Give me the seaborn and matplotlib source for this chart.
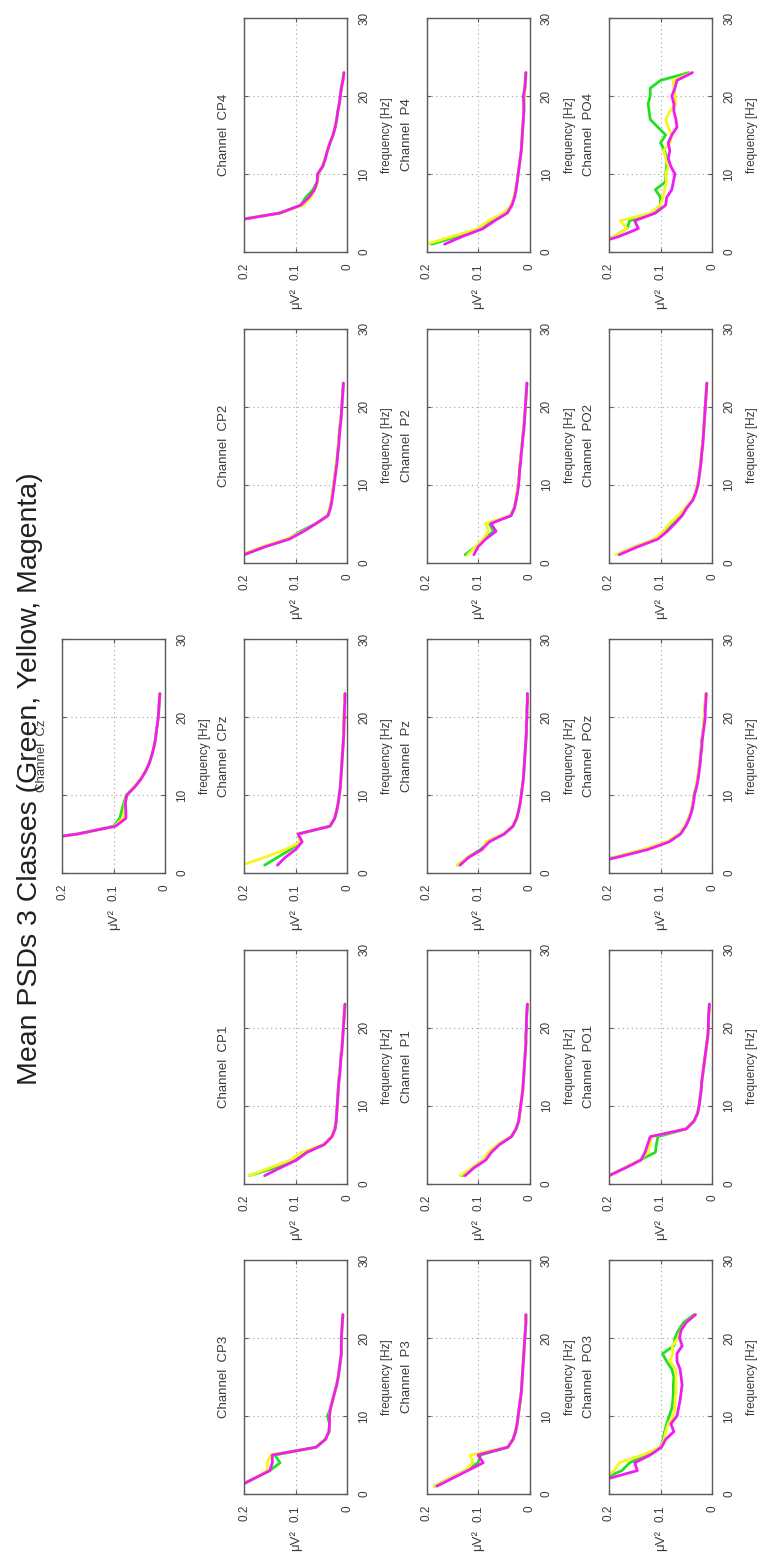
import numpy as np
import pandas as pd
import matplotlib
matplotlib.use("Agg")
import matplotlib.pyplot as plt
import seaborn as sns

# ---------------- data ----------------
freqs = list(range(1, 24))  # Hz
classes = ["Green", "Yellow", "Magenta"]

cz_green   = [0.60,0.50,0.40,0.28,0.17,0.100,0.088,0.084,0.080,0.075,0.060,0.048,0.038,0.031,0.026,0.022,0.019,0.017,0.015,0.013,0.012,0.011,0.010]
cz_yellow  = [0.60,0.50,0.40,0.28,0.17,0.098,0.082,0.078,0.078,0.074,0.060,0.048,0.038,0.031,0.026,0.022,0.019,0.017,0.015,0.013,0.012,0.011,0.010]
cz_magenta = [0.60,0.50,0.40,0.28,0.17,0.096,0.076,0.076,0.077,0.074,0.059,0.047,0.038,0.031,0.026,0.022,0.019,0.017,0.015,0.013,0.012,0.011,0.010]

cp4_green   = [0.60,0.45,0.33,0.22,0.13,0.090,0.080,0.066,0.058,0.056,0.047,0.042,0.038,0.033,0.027,0.023,0.020,0.018,0.015,0.013,0.011,0.008,0.006]
cp4_yellow  = [0.60,0.45,0.33,0.22,0.13,0.085,0.070,0.062,0.057,0.055,0.048,0.043,0.038,0.033,0.028,0.024,0.020,0.018,0.015,0.013,0.011,0.008,0.006]
cp4_magenta = [0.60,0.45,0.33,0.22,0.13,0.090,0.074,0.063,0.058,0.057,0.047,0.042,0.038,0.033,0.027,0.023,0.020,0.018,0.015,0.013,0.011,0.008,0.006]

cp2_green   = [0.200,0.160,0.115,0.090,0.060,0.037,0.033,0.030,0.028,0.026,0.024,0.022,0.020,0.018,0.017,0.016,0.014,0.013,0.011,0.010,0.009,0.008,0.007]
cp2_yellow  = [0.205,0.165,0.118,0.085,0.058,0.038,0.033,0.030,0.028,0.026,0.024,0.022,0.020,0.018,0.017,0.016,0.014,0.013,0.011,0.010,0.009,0.008,0.007]
cp2_magenta = [0.200,0.160,0.112,0.084,0.060,0.037,0.032,0.029,0.027,0.025,0.023,0.021,0.019,0.018,0.016,0.015,0.014,0.012,0.011,0.010,0.009,0.008,0.007]

cpz_green   = [0.160,0.135,0.110,0.090,0.095,0.033,0.024,0.020,0.017,0.015,0.013,0.012,0.011,0.010,0.009,0.008,0.007,0.007,0.006,0.006,0.005,0.005,0.004]
cpz_yellow  = [0.205,0.160,0.120,0.090,0.095,0.034,0.025,0.020,0.017,0.015,0.013,0.012,0.011,0.010,0.009,0.008,0.007,0.007,0.006,0.006,0.005,0.005,0.004]
cpz_magenta = [0.135,0.120,0.100,0.087,0.095,0.033,0.024,0.020,0.017,0.015,0.013,0.012,0.011,0.010,0.009,0.008,0.007,0.006,0.006,0.005,0.005,0.004,0.004]

cp1_green   = [0.190,0.140,0.100,0.078,0.045,0.030,0.024,0.021,0.020,0.019,0.018,0.017,0.016,0.015,0.013,0.012,0.011,0.009,0.008,0.007,0.006,0.005,0.004]
cp1_yellow  = [0.190,0.150,0.110,0.088,0.046,0.030,0.024,0.021,0.020,0.019,0.018,0.017,0.016,0.015,0.013,0.012,0.011,0.009,0.008,0.007,0.006,0.005,0.004]
cp1_magenta = [0.160,0.130,0.098,0.078,0.044,0.029,0.023,0.021,0.020,0.019,0.018,0.017,0.016,0.014,0.013,0.012,0.010,0.009,0.008,0.007,0.006,0.005,0.004]

cp3_green   = [0.210,0.180,0.150,0.130,0.140,0.060,0.042,0.035,0.034,0.038,0.032,0.028,0.024,0.020,0.017,0.015,0.013,0.011,0.011,0.011,0.010,0.009,0.008]
cp3_yellow  = [0.210,0.180,0.155,0.155,0.148,0.060,0.042,0.035,0.034,0.034,0.032,0.028,0.024,0.020,0.017,0.015,0.013,0.011,0.011,0.011,0.010,0.009,0.008]
cp3_magenta = [0.210,0.180,0.150,0.145,0.145,0.060,0.042,0.035,0.034,0.034,0.032,0.028,0.024,0.020,0.017,0.015,0.013,0.011,0.011,0.011,0.010,0.009,0.008]

p4_green   = [0.190,0.140,0.095,0.070,0.045,0.035,0.030,0.027,0.024,0.022,0.020,0.018,0.016,0.015,0.014,0.013,0.012,0.011,0.011,0.010,0.009,0.008,0.007]
p4_yellow  = [0.200,0.150,0.100,0.080,0.050,0.036,0.030,0.027,0.024,0.022,0.020,0.018,0.016,0.015,0.014,0.013,0.012,0.011,0.011,0.010,0.009,0.008,0.007]
p4_magenta = [0.165,0.130,0.090,0.068,0.043,0.034,0.029,0.026,0.024,0.022,0.020,0.018,0.016,0.015,0.014,0.013,0.012,0.011,0.011,0.012,0.009,0.008,0.007]

p2_green   = [0.125,0.105,0.088,0.070,0.078,0.036,0.030,0.026,0.024,0.022,0.020,0.019,0.018,0.016,0.015,0.013,0.012,0.010,0.009,0.008,0.007,0.006,0.005]
p2_yellow  = [0.120,0.105,0.090,0.080,0.085,0.038,0.030,0.026,0.024,0.022,0.020,0.019,0.018,0.016,0.015,0.013,0.012,0.010,0.009,0.008,0.007,0.006,0.005]
p2_magenta = [0.108,0.100,0.085,0.065,0.075,0.036,0.029,0.026,0.023,0.021,0.020,0.019,0.017,0.016,0.014,0.013,0.011,0.010,0.009,0.008,0.007,0.006,0.005]

pz_green   = [0.140,0.120,0.095,0.080,0.050,0.032,0.025,0.021,0.018,0.016,0.014,0.012,0.011,0.010,0.009,0.008,0.007,0.006,0.006,0.005,0.005,0.004,0.004]
pz_yellow  = [0.140,0.120,0.090,0.085,0.052,0.033,0.026,0.021,0.018,0.016,0.014,0.012,0.011,0.010,0.009,0.008,0.007,0.006,0.006,0.005,0.005,0.004,0.004]
pz_magenta = [0.135,0.118,0.093,0.078,0.049,0.032,0.025,0.021,0.018,0.016,0.014,0.012,0.011,0.010,0.009,0.008,0.007,0.006,0.006,0.005,0.005,0.004,0.004]

p1_green   = [0.130,0.110,0.090,0.075,0.060,0.036,0.026,0.021,0.019,0.017,0.015,0.013,0.012,0.011,0.010,0.009,0.008,0.007,0.007,0.006,0.006,0.005,0.004]
p1_yellow  = [0.135,0.112,0.090,0.080,0.062,0.036,0.026,0.021,0.019,0.017,0.015,0.013,0.012,0.011,0.010,0.009,0.008,0.007,0.007,0.006,0.006,0.005,0.004]
p1_magenta = [0.125,0.108,0.085,0.074,0.058,0.035,0.026,0.021,0.019,0.017,0.015,0.013,0.012,0.011,0.010,0.009,0.008,0.007,0.007,0.006,0.006,0.005,0.004]

p3_green   = [0.185,0.155,0.125,0.100,0.095,0.042,0.032,0.027,0.024,0.022,0.020,0.018,0.016,0.015,0.014,0.013,0.012,0.011,0.010,0.009,0.008,0.007,0.007]
p3_yellow  = [0.185,0.155,0.125,0.110,0.115,0.043,0.032,0.027,0.024,0.022,0.020,0.018,0.016,0.015,0.014,0.013,0.012,0.011,0.010,0.009,0.008,0.007,0.007]
p3_magenta = [0.180,0.150,0.120,0.090,0.100,0.042,0.032,0.027,0.024,0.022,0.020,0.018,0.016,0.015,0.014,0.013,0.012,0.011,0.010,0.009,0.008,0.007,0.007]

po4_green   = [0.230,0.190,0.165,0.160,0.110,0.100,0.100,0.110,0.090,0.090,0.088,0.088,0.092,0.100,0.090,0.105,0.120,0.122,0.124,0.120,0.120,0.100,0.045]
po4_yellow  = [0.230,0.190,0.165,0.178,0.120,0.100,0.095,0.092,0.088,0.090,0.085,0.090,0.094,0.082,0.078,0.085,0.090,0.082,0.070,0.072,0.074,0.075,0.040]
po4_magenta = [0.230,0.180,0.143,0.150,0.110,0.090,0.088,0.078,0.075,0.072,0.080,0.085,0.082,0.085,0.078,0.068,0.070,0.074,0.074,0.078,0.072,0.068,0.038]

po2_green   = [0.185,0.150,0.110,0.090,0.075,0.060,0.050,0.038,0.032,0.028,0.025,0.023,0.022,0.020,0.019,0.017,0.016,0.015,0.014,0.013,0.012,0.011,0.010]
po2_yellow  = [0.185,0.150,0.112,0.095,0.082,0.066,0.052,0.039,0.032,0.028,0.025,0.023,0.022,0.020,0.019,0.017,0.016,0.015,0.014,0.013,0.012,0.011,0.010]
po2_magenta = [0.180,0.145,0.105,0.087,0.072,0.058,0.049,0.037,0.031,0.027,0.025,0.023,0.021,0.020,0.018,0.017,0.016,0.015,0.014,0.013,0.012,0.011,0.010]

poz_green   = [0.260,0.190,0.130,0.085,0.062,0.052,0.045,0.040,0.037,0.035,0.031,0.028,0.026,0.024,0.022,0.021,0.020,0.018,0.016,0.015,0.014,0.013,0.012]
poz_yellow  = [0.260,0.190,0.135,0.088,0.064,0.053,0.045,0.040,0.037,0.034,0.031,0.028,0.026,0.024,0.022,0.021,0.019,0.018,0.016,0.015,0.014,0.013,0.012]
poz_magenta = [0.250,0.185,0.125,0.083,0.061,0.051,0.044,0.039,0.036,0.034,0.030,0.027,0.025,0.023,0.022,0.020,0.019,0.017,0.015,0.013,0.013,0.012,0.011]

po1_green   = [0.200,0.170,0.140,0.110,0.108,0.105,0.050,0.035,0.028,0.025,0.023,0.021,0.020,0.018,0.016,0.014,0.012,0.010,0.008,0.007,0.007,0.006,0.005]
po1_yellow  = [0.200,0.170,0.140,0.125,0.120,0.118,0.050,0.035,0.028,0.025,0.023,0.021,0.020,0.018,0.016,0.014,0.012,0.010,0.008,0.007,0.007,0.006,0.005]
po1_magenta = [0.200,0.168,0.138,0.130,0.125,0.120,0.050,0.035,0.028,0.025,0.023,0.021,0.020,0.018,0.016,0.014,0.012,0.010,0.008,0.007,0.007,0.006,0.005]

po3_green   = [0.300,0.210,0.175,0.160,0.130,0.100,0.095,0.092,0.088,0.083,0.078,0.076,0.075,0.075,0.074,0.078,0.088,0.096,0.074,0.072,0.065,0.055,0.035]
po3_yellow  = [0.300,0.210,0.190,0.180,0.135,0.100,0.093,0.090,0.085,0.075,0.072,0.072,0.070,0.070,0.070,0.070,0.082,0.076,0.077,0.066,0.060,0.050,0.032]
po3_magenta = [0.300,0.200,0.145,0.150,0.120,0.098,0.090,0.074,0.080,0.068,0.065,0.062,0.060,0.058,0.060,0.062,0.068,0.068,0.058,0.063,0.060,0.050,0.032]

channels = {
    "Cz":  (cz_green,  cz_yellow,  cz_magenta),
    "CP4": (cp4_green, cp4_yellow, cp4_magenta),
    "CP2": (cp2_green, cp2_yellow, cp2_magenta),
    "CPz": (cpz_green, cpz_yellow, cpz_magenta),
    "CP1": (cp1_green, cp1_yellow, cp1_magenta),
    "CP3": (cp3_green, cp3_yellow, cp3_magenta),
    "P4":  (p4_green,  p4_yellow,  p4_magenta),
    "P2":  (p2_green,  p2_yellow,  p2_magenta),
    "Pz":  (pz_green,  pz_yellow,  pz_magenta),
    "P1":  (p1_green,  p1_yellow,  p1_magenta),
    "P3":  (p3_green,  p3_yellow,  p3_magenta),
    "PO4": (po4_green, po4_yellow, po4_magenta),
    "PO2": (po2_green, po2_yellow, po2_magenta),
    "POz": (poz_green, poz_yellow, poz_magenta),
    "PO1": (po1_green, po1_yellow, po1_magenta),
    "PO3": (po3_green, po3_yellow, po3_magenta),
}

# picture layout (figure is shown rotated: original rows become columns)
layout = [
    (0, 2, "Cz"),
    (1, 0, "CP4"), (1, 1, "CP2"), (1, 2, "CPz"), (1, 3, "CP1"), (1, 4, "CP3"),
    (2, 0, "P4"),  (2, 1, "P2"),  (2, 2, "Pz"),  (2, 3, "P1"),  (2, 4, "P3"),
    (3, 0, "PO4"), (3, 1, "PO2"), (3, 2, "POz"), (3, 3, "PO1"), (3, 4, "PO3"),
]

palette = {"Green": "#22e022", "Yellow": "#f5f520", "Magenta": "#f01cf0"}

# ---------------- style ----------------
sns.set_theme(style="white")
plt.rcParams["font.family"] = ["Liberation Sans", "DejaVu Sans"]
TXT = "#3a3a3a"
EDGE = "#5a5a5a"

W, H = 762, 1557
fig = plt.figure(figsize=(W / 100, H / 100), dpi=100)
fig.patch.set_facecolor("white")

col_left = [62, 244, 426.5, 609]
row_top = [18, 328.5, 639, 949.5, 1260]
bw, bh = 103, 234

for c, r, name in layout:
    l, t = col_left[c], row_top[r]
    ax = fig.add_axes([l / W, 1 - (t + bh) / H, bw / W, bh / H])
    g, y, m = channels[name]
    df = pd.DataFrame({
        "freq": freqs * 3,
        "psd": list(g) + list(y) + list(m),
        "cls": ["Green"] * len(freqs) + ["Yellow"] * len(freqs) + ["Magenta"] * len(freqs),
    })
    sns.lineplot(data=df, x="psd", y="freq", hue="cls", hue_order=classes,
                 palette=palette, orient="y", estimator=None, legend=False,
                 linewidth=2.0, ax=ax)
    ax.set_xlim(0.2, 0)
    ax.set_ylim(0, 30)
    ax.set_xticks([0, 0.1, 0.2], labels=["0", "0.1", "0.2"])
    ax.set_yticks([0, 10, 20, 30], labels=["0", "10", "20", "30"])
    ax.yaxis.tick_right()
    ax.tick_params(direction="in", length=3, width=0.8, color=EDGE,
                   top=True, bottom=True, left=True, right=True,
                   labelleft=False, labelright=True, labelbottom=True, labeltop=False,
                   labelsize=8.5, labelcolor=TXT)
    ax.tick_params(axis="x", pad=8)
    ax.tick_params(axis="y", pad=8)
    for lab in ax.get_xticklabels():
        lab.set_rotation(90)
    for lab in ax.get_yticklabels():
        lab.set_rotation(90)
        lab.set_va("center")
    ax.grid(True, linestyle=(0, (1, 3)), color="#a0a0a0", linewidth=0.8)
    for s in ax.spines.values():
        s.set_color(EDGE)
        s.set_linewidth(1.0)
    ax.set_xlabel("μV²", rotation=90, fontsize=9.5, color=TXT, labelpad=6)
    ax.yaxis.set_label_position("right")
    ax.set_ylabel("frequency [Hz]", rotation=90, fontsize=8.5, color=TXT, labelpad=8)
    ax.text(-20 / bw, 0.5, f"Channel  {name}", transform=ax.transAxes,
            rotation=90, ha="center", va="center", fontsize=9.5, color=TXT)

fig.text(30 / W, 0.5, "Mean PSDs 3 Classes (Green, Yellow, Magenta)",
         rotation=90, ha="center", va="center", fontsize=20.5, color="#202020")

fig.savefig("out.png", dpi=100, facecolor="white")
